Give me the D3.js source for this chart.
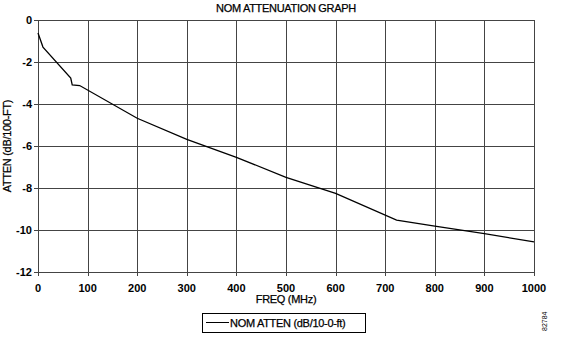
<!DOCTYPE html>
<html>
<head>
<meta charset="utf-8">
<script src="https://cdn.jsdelivr.net/npm/d3@7"></script>
<style>
  body { margin: 0; background: #fff; }
  text { font-family: "Liberation Sans", Arial, sans-serif; fill: #000; }
  .label { stroke: #000; stroke-width: 0.25; }
</style>
</head>
<body>
<script>
// Chart data
const freqs = [0, 10, 66, 69, 84, 200, 300, 400, 500, 600, 723, 800, 900, 1000];
const atten = [-0.62, -1.29, -2.77, -3.09, -3.12, -4.68, -5.68, -6.54, -7.49, -8.26, -9.53, -9.82, -10.17, -10.57];
const xTicks = [0, 100, 200, 300, 400, 500, 600, 700, 800, 900, 1000];
const yTicks = [0, -2, -4, -6, -8, -10, -12];

const width = 576, height = 349;
const margin = { left: 38, right: 42, top: 20, bottom: 77 };

const svg = d3.select('body').append('svg')
  .attr('width', width)
  .attr('height', height);

const x = d3.scaleLinear().domain([0, 1000]).range([margin.left, width - margin.right]);
const y = d3.scaleLinear().domain([0, -12]).range([margin.top, height - margin.bottom]);

// Grid lines (ticks stick out a few px on the left and bottom)
const grid = svg.append('g').attr('stroke', '#444').attr('stroke-width', 1);
xTicks.forEach(t => {
  grid.append('line')
    .attr('x1', Math.round(x(t)) + 0.5).attr('x2', Math.round(x(t)) + 0.5)
    .attr('y1', y(0)).attr('y2', y(-12) + 4);
});
yTicks.forEach(t => {
  grid.append('line')
    .attr('x1', x(0) - 4).attr('x2', x(1000))
    .attr('y1', Math.round(y(t)) + 0.5).attr('y2', Math.round(y(t)) + 0.5);
});

// Tick labels
svg.append('g').selectAll('text').data(xTicks).join('text')
  .attr('x', d => x(d))
  .attr('y', y(-12) + 20)
  .attr('text-anchor', 'middle')
  .attr('font-size', 11)
  .attr('font-weight', 'bold')
  .text(d => d);

svg.append('g').selectAll('text').data(yTicks).join('text')
  .attr('x', x(0) - 6)
  .attr('y', d => y(d) + 4)
  .attr('text-anchor', 'end')
  .attr('font-size', 11)
  .attr('font-weight', 'bold')
  .text(d => d);

// Data line
const line = d3.line().x((d, i) => x(freqs[i])).y(d => y(d));
svg.append('path')
  .datum(atten)
  .attr('fill', 'none')
  .attr('stroke', '#000')
  .attr('stroke-width', 1.3)
  .attr('d', line);

// Titles
svg.append('text')
  .attr('class', 'label')
  .attr('x', 286).attr('y', 12)
  .attr('text-anchor', 'middle')
  .attr('font-size', 11)
  .attr('letter-spacing', -0.3)
  .text('NOM ATTENUATION GRAPH');

svg.append('text')
  .attr('class', 'label')
  .attr('x', x(500)).attr('y', 303)
  .attr('text-anchor', 'middle')
  .attr('font-size', 11)
  .attr('letter-spacing', -0.3)
  .text('FREQ (MHz)');

svg.append('text')
  .attr('class', 'label')
  .attr('transform', `translate(11,${(y(0) + y(-12)) / 2}) rotate(-90)`)
  .attr('text-anchor', 'middle')
  .attr('font-size', 11)
  .attr('letter-spacing', -0.3)
  .text('ATTEN (dB/100-FT)');

// Legend
const legend = svg.append('g').attr('transform', 'translate(202,313)');
legend.append('rect')
  .attr('x', 0.5).attr('y', 0.5)
  .attr('width', 163).attr('height', 19)
  .attr('fill', 'none').attr('stroke', '#000');
legend.append('line')
  .attr('x1', 4).attr('x2', 27)
  .attr('y1', 9.5).attr('y2', 9.5)
  .attr('stroke', '#000');
legend.append('text')
  .attr('class', 'label')
  .attr('x', 28).attr('y', 14)
  .attr('font-size', 11)
  .attr('letter-spacing', -0.3)
  .text('NOM ATTEN (dB/10-0-ft)');

// Figure number
svg.append('text')
  .attr('transform', 'translate(547,331) rotate(-90)')
  .attr('font-size', 7)
  .text('82784');
</script>
</body>
</html>
